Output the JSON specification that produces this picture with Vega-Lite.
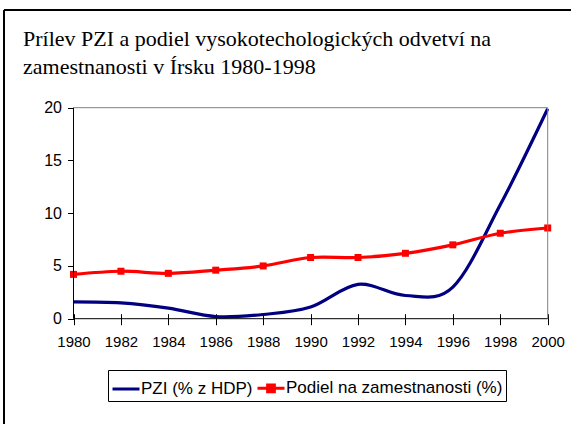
{
  "$schema": "https://vega.github.io/schema/vega-lite/v6.json",
  "width": 567,
  "height": 414,
  "autosize": {"type": "none"},
  "padding": {"left": 4, "top": 10, "right": 0, "bottom": 0},
  "background": "white",
  "config": {"view": {"stroke": null}},
  "title": {
    "text": ["Prílev PZI a podiel vysokotechologických odvetví na", "zamestnanosti v Írsku 1980-1998"],
    "anchor": "start",
    "frame": "group",
    "orient": "top",
    "offset": 0,
    "baseline": "alphabetic",
    "dx": 19,
    "dy": 87,
    "font": "Liberation Serif",
    "fontSize": 22,
    "fontWeight": "normal",
    "lineHeight": 28,
    "color": "black"
  },
  "data": {
    "values": [
      {"year": 1980, "series": "PZI (% z HDP)", "value": 1.6},
      {"year": 1982, "series": "PZI (% z HDP)", "value": 1.5},
      {"year": 1984, "series": "PZI (% z HDP)", "value": 1.0},
      {"year": 1986, "series": "PZI (% z HDP)", "value": 0.2},
      {"year": 1988, "series": "PZI (% z HDP)", "value": 0.4},
      {"year": 1990, "series": "PZI (% z HDP)", "value": 1.1},
      {"year": 1992, "series": "PZI (% z HDP)", "value": 3.25},
      {"year": 1994, "series": "PZI (% z HDP)", "value": 2.2},
      {"year": 1996, "series": "PZI (% z HDP)", "value": 3.0},
      {"year": 1998, "series": "PZI (% z HDP)", "value": 10.8},
      {"year": 2000, "series": "PZI (% z HDP)", "value": 19.9},
      {"year": 1980, "series": "Podiel na zamestnanosti (%)", "value": 4.2},
      {"year": 1982, "series": "Podiel na zamestnanosti (%)", "value": 4.5},
      {"year": 1984, "series": "Podiel na zamestnanosti (%)", "value": 4.3},
      {"year": 1986, "series": "Podiel na zamestnanosti (%)", "value": 4.6},
      {"year": 1988, "series": "Podiel na zamestnanosti (%)", "value": 5.0},
      {"year": 1990, "series": "Podiel na zamestnanosti (%)", "value": 5.8},
      {"year": 1992, "series": "Podiel na zamestnanosti (%)", "value": 5.8},
      {"year": 1994, "series": "Podiel na zamestnanosti (%)", "value": 6.2},
      {"year": 1996, "series": "Podiel na zamestnanosti (%)", "value": 7.0},
      {"year": 1998, "series": "Podiel na zamestnanosti (%)", "value": 8.1},
      {"year": 2000, "series": "Podiel na zamestnanosti (%)", "value": 8.6}
    ]
  },
  "layer": [
    {
      "mark": {"type": "line", "interpolate": "cardinal", "tension": 0, "strokeWidth": 3.2},
      "encoding": {
        "x": {
          "field": "year",
          "type": "quantitative",
          "scale": {"domain": [1977.0687, 2000.983], "nice": false, "zero": false},
          "axis": {
            "values": [1980, 1982, 1984, 1986, 1988, 1990, 1992, 1994, 1996, 1998, 2000],
            "format": "d",
            "offset": -110.3,
            "tickSize": 11,
            "tickColor": "black",
            "domain": false,
            "grid": false,
            "title": null,
            "labelFont": "Liberation Sans",
            "labelFontSize": 15,
            "labelColor": "black",
            "labelPadding": 10,
            "labelOverlap": false,
            "labelFlush": false
          }
        },
        "y": {
          "field": "value",
          "type": "quantitative",
          "scale": {"domain": [-9.981, 29.261], "nice": false, "zero": false},
          "axis": {
            "values": [0, 5, 10, 15, 20],
            "offset": -69.5,
            "tickSize": 6,
            "tickColor": "black",
            "domain": false,
            "grid": false,
            "title": null,
            "labelFont": "Liberation Sans",
            "labelFontSize": 16,
            "labelColor": "black",
            "labelPadding": 6,
            "labelOverlap": false,
            "labelFlush": false
          }
        },
        "color": {
          "field": "series",
          "type": "nominal",
          "scale": {"domain": ["PZI (% z HDP)", "Podiel na zamestnanosti (%)"], "range": ["#000080", "#FF0000"]},
          "legend": {
            "title": null,
            "orient": "none",
            "legendX": 104,
            "legendY": 360,
            "direction": "horizontal",
            "strokeColor": "black",
            "padding": 3,
            "labelFont": "Liberation Sans",
            "labelFontSize": 17,
            "labelColor": "black",
            "labelOffset": 0,
            "labelLimit": 400,
            "columnPadding": -2,
            "symbolSize": 729,
            "symbolStrokeWidth": 3,
            "symbolType": "stroke",
            "encode": {
              "symbols": {
                "update": {
                  "shape": {"signal": "datum.value == 'PZI (% z HDP)' ? 'M-1,0H1' : 'M-1,0H1M-0.25,-0.25H0.25V0.25H-0.25Z'"},
                  "fill": {"signal": "datum.value == 'PZI (% z HDP)' ? 'transparent' : '#FF0000'"}
                }
              }
            }
          }
        }
      }
    },
    {
      "transform": [{"filter": "datum.series == 'Podiel na zamestnanosti (%)'"}],
      "mark": {"type": "square", "size": 49, "filled": true, "opacity": 1, "color": "#FF0000"},
      "encoding": {
        "x": {"field": "year", "type": "quantitative"},
        "y": {"field": "value", "type": "quantitative"}
      }
    },
    {
      "data": {"values": [{}]},
      "mark": {"type": "rule", "color": "#808080", "strokeWidth": 1},
      "encoding": {
        "x": {"datum": 1980, "type": "quantitative"},
        "x2": {"datum": 2000},
        "y": {"datum": 20, "type": "quantitative"}
      }
    },
    {
      "data": {"values": [{}]},
      "mark": {"type": "rule", "color": "#808080", "strokeWidth": 1},
      "encoding": {
        "x": {"datum": 2000, "type": "quantitative"},
        "y": {"datum": 0, "type": "quantitative"},
        "y2": {"datum": 20}
      }
    },
    {
      "data": {"values": [{}]},
      "mark": {"type": "rule", "color": "black", "strokeWidth": 1},
      "encoding": {
        "x": {"datum": 1980, "type": "quantitative"},
        "x2": {"datum": 2000},
        "y": {"datum": 0, "type": "quantitative"}
      }
    },
    {
      "data": {"values": [{}]},
      "mark": {"type": "rule", "color": "black", "strokeWidth": 1},
      "encoding": {
        "x": {"datum": 1980, "type": "quantitative"},
        "y": {"datum": 0, "type": "quantitative"},
        "y2": {"datum": 20}
      }
    },
    {
      "data": {"values": [{}]},
      "mark": {"type": "rule", "color": "black", "strokeWidth": 2},
      "encoding": {
        "x": {"datum": 1977.0687, "type": "quantitative"},
        "y": {"datum": -9.981, "type": "quantitative"},
        "y2": {"datum": 29.261}
      }
    },
    {
      "data": {"values": [{}]},
      "mark": {"type": "rule", "color": "black", "strokeWidth": 2},
      "encoding": {
        "x": {"datum": 1977.0687, "type": "quantitative"},
        "x2": {"datum": 2000.983},
        "y": {"datum": 29.261, "type": "quantitative"}
      }
    }
  ]
}
